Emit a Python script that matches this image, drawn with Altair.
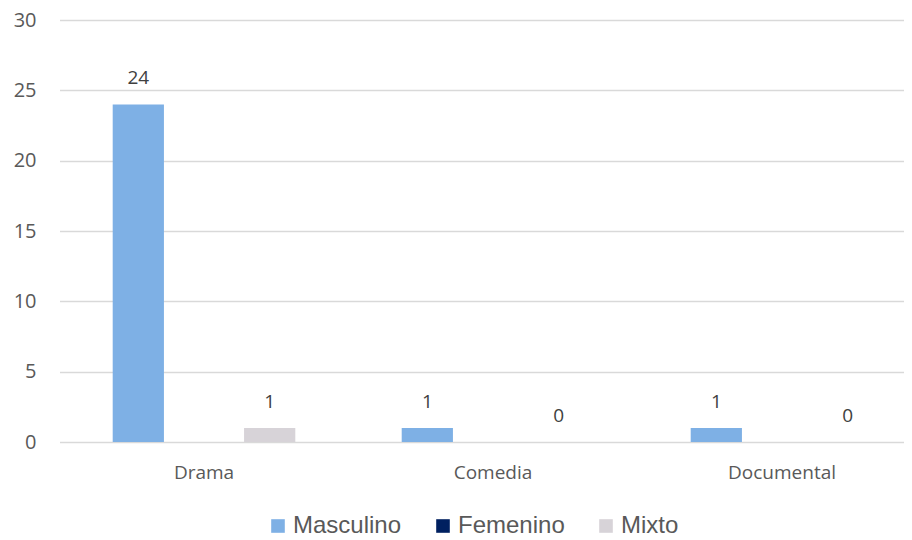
import altair as alt
import pandas as pd

categories = ["Drama", "Comedia", "Documental"]
series = ["Masculino", "Femenino", "Mixto"]
masculino = [24, 1, 1]
femenino = [None, None, None]
mixto = [1, 0, 0]
colors = ["#7EB0E5", "#002060", "#D7D3D8"]

rows = []
for i, c in enumerate(categories):
    for s, vals in zip(series, [masculino, femenino, mixto]):
        rows.append({"Categoria": c, "Serie": s, "Valor": vals[i]})
df = pd.DataFrame(rows)

x = alt.X("Categoria:N", sort=categories, title=None,
          scale=alt.Scale(paddingInner=0, paddingOuter=0, range=[-0.5, 866.5]),
          axis=alt.Axis(labelAngle=0, ticks=False, domain=False, labelPadding=21,
                        labelFontSize=19, labelColor="#595959", labelFont="Open Sans"))
xo = alt.XOffset("Serie:N", sort=series,
                 scale=alt.Scale(paddingInner=0.22, paddingOuter=0.81))
y = alt.Y("Valor:Q", title=None,
          scale=alt.Scale(domain=[0, 30], nice=False),
          axis=alt.Axis(values=[0, 5, 10, 15, 20, 25, 30], ticks=False, domain=False,
                        gridColor="#D9D9D9", gridWidth=1.3, labelPadding=24,
                        labelFontSize=20, labelColor="#595959", labelFont="Open Sans"))

bars = alt.Chart(df).mark_bar().encode(
    x=x, xOffset=xo, y=y,
    color=alt.Color("Serie:N", sort=series,
                    scale=alt.Scale(domain=series, range=colors),
                    legend=alt.Legend(title=None, orient="none", direction="horizontal",
                                      legendX=206, legendY=494,
                                      symbolType="square", symbolSize=185,
                                      symbolStrokeWidth=0,
                                      labelFont="Liberation Sans", labelFontSize=24,
                                      labelColor="#595959", columnPadding=29,
                                      labelOffset=3)),
)

labels = alt.Chart(df).transform_filter("datum.Valor != null").mark_text(
    baseline="middle", dy=-26, fontSize=19, color="#404040", font="Open Sans"
).encode(x=x, xOffset=xo, y=y, text=alt.Text("Valor:Q"))

chart = alt.layer(bars, labels).properties(
    width=844, height=422,
    autosize=alt.AutoSizeParams(type="none"),
    padding={"left": 52, "top": 12, "right": 0, "bottom": 98},
).configure_view(stroke=None).configure_axis(labelFont="Open Sans")

chart.save("out.html", embed_options={"renderer": "svg", "actions": False})
